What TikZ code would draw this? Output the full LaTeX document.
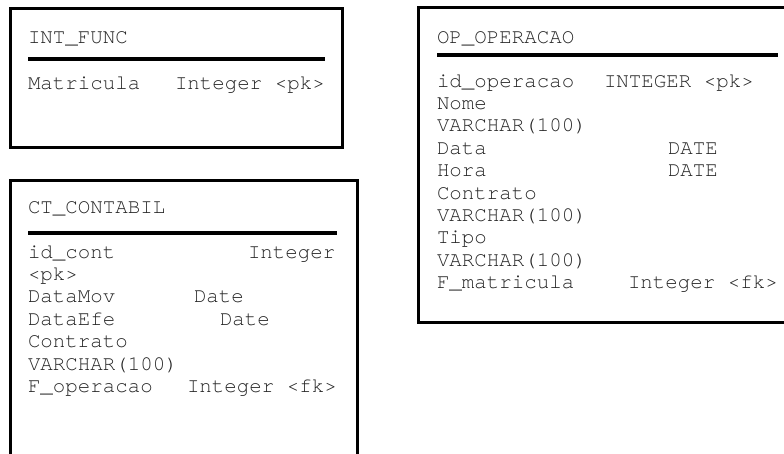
\documentclass[tikz,border=0pt]{standalone}
\usepackage{fontspec}
\setmainfont{TeX Gyre Cursor}
\tikzset{
  tblbox/.style={draw=black, line width=3pt},
  tblrule/.style={draw=black, line width=3.5pt},
  txt/.style={anchor=base west, inner sep=0pt, outer sep=0pt, text=black!85,
    font=\fontsize{20.8}{22.4}\selectfont}
}
\begin{document}
\begin{tikzpicture}[x=1pt,y=-1pt]
\useasboundingbox (0,0) rectangle (784,453);
\fill[white] (0,0) rectangle (784,453);
\clip (0,0) rectangle (784,453);
% ---------- INT_FUNC ----------
\draw[tblbox] (10,8) rectangle (342,147);
\draw[tblrule] (28,59) -- (325,59);
\node[txt] (intT) at (28,43) {INT\_FUNC};
\node[txt] (intA) at (28,89) {Matricula};
\node[txt] (intB) at (175,89) {Integer <pk>};
% ---------- CT_CONTABIL ----------
\draw[tblbox] (10,180) rectangle (357,470);
\draw[tblrule] (28,233) -- (337,233);
\node[txt] (ctT) at (28,213) {CT\_CONTABIL};
\node[txt] (ct1) at (28,258) {id\_cont};
\node[txt] (ct1b) at (248,258) {Integer};
\node[txt] (ct2) at (28,280.4) {<pk>};
\node[txt] (ct3) at (28,302.8) {DataMov};
\node[txt] (ct3b) at (194,302.8) {Date};
\node[txt] (ct4) at (28,325.2) {DataEfe};
\node[txt] (ct4b) at (220,325.2) {Date};
\node[txt] (ct5) at (28,347.6) {Contrato};
\node[txt] (ct6) at (28,370) {VARCHAR(100)};
\node[txt] (ct7) at (28,392.4) {F\_operacao};
\node[txt] (ct7b) at (187,392.4) {Integer <fk>};
% ---------- OP_OPERACAO ----------
\draw[tblbox] (418,7) rectangle (800,322);
\draw[tblrule] (437,55) -- (778,55);
\node[txt] (opT) at (437,43) {OP\_OPERACAO};
\node[txt] (op1) at (437,87) {id\_operacao};
\node[txt] (op1b) at (604,87) {INTEGER <pk>};
\node[txt] (op2) at (437,109.4) {Nome};
\node[txt] (op3) at (437,131.8) {VARCHAR(100)};
\node[txt] (op4) at (437,154.2) {Data};
\node[txt] (op4b) at (668,154.2) {DATE};
\node[txt] (op5) at (437,176.6) {Hora};
\node[txt] (op5b) at (668,176.6) {DATE};
\node[txt] (op6) at (437,199) {Contrato};
\node[txt] (op7) at (437,221.4) {VARCHAR(100)};
\node[txt] (op8) at (437,243.8) {Tipo};
\node[txt] (op9) at (437,266.2) {VARCHAR(100)};
\node[txt] (op10) at (437,288.6) {F\_matricula};
\node[txt] (op10b) at (628,288.6) {Integer <fk>};
\end{tikzpicture}
\end{document}
